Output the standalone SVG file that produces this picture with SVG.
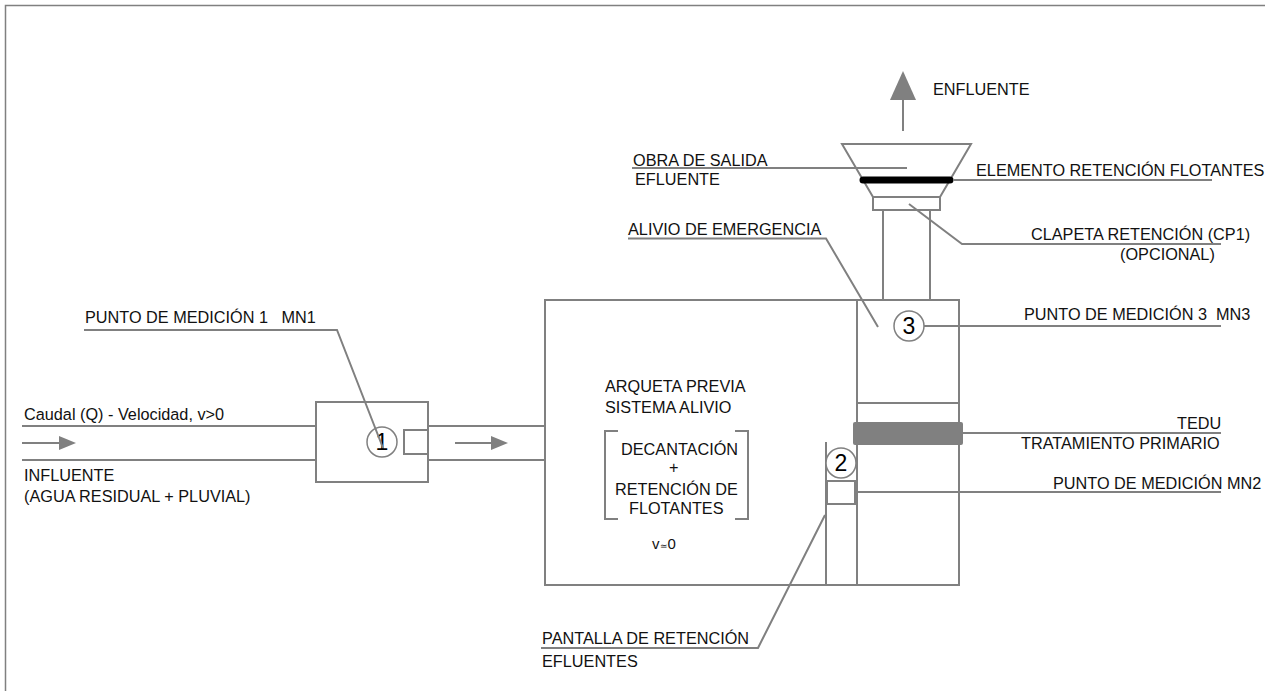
<svg xmlns="http://www.w3.org/2000/svg" width="1265" height="691" viewBox="0 0 1265 691">
<style>
text{font-family:"Liberation Sans",Arial,sans-serif;font-size:16.25px;fill:#111}
.l{fill:none;stroke:#808080;stroke-width:2}
.f{fill:#808080;stroke:none}
.c{fill:#fff;stroke:#808080;stroke-width:1.5}
.n{font-size:23px;fill:#000;text-anchor:middle}
</style>
<rect width="1265" height="691" fill="#fff"/>
<path d="M5.500 691V5.500H1265" fill="none" stroke="#808080" stroke-width="1.500"/>
<g id="influent-box"><rect class="l" x="316" y="402" width="112" height="80"/><rect class="l" x="404" y="430" width="24" height="24"/><circle class="c" cx="382" cy="442" r="15"/><text class="n" x="382" y="450">1</text></g>
<g id="chamber"><rect class="l" x="545" y="300" width="414" height="285"/><path class="l" d="M857 300V585M857 403H959M826 442V585"/></g>
<g id="outlet"><path class="l" d="M883 300V211M930 300V211"/><rect class="l" x="873" y="197" width="67" height="13"/><polygon class="l" points="842,144 971,144 940,197 873,197"/><path d="M863 180H950" stroke="#000" stroke-width="7" stroke-linecap="round"/></g>
<g id="tedu"><rect x="853" y="422" width="110" height="23" rx="2" fill="#808080"/></g>
<g id="mp3"><circle class="c" cx="909" cy="326" r="15"/><text class="n" x="909" y="334">3</text></g>
<g id="mp2"><circle class="c" cx="841" cy="463" r="15"/><text class="n" x="841" y="471">2</text><rect class="l" x="827" y="481" width="28" height="23" style="fill:#fff"/></g>
<g id="brackets"><path class="l" d="M618 431H605V519H618M735 431H748V519H735"/></g>
<g id="connectors">
<path class="l" d="M22 426H316M22 460H316M428 426H545M428 460H545"/>
<path class="l" d="M22 443H62M455 443H494"/>
<polygon class="f" points="59,436 76,443 59,450"/>
<polygon class="f" points="491,436 508,443 491,450"/>
<path class="l" d="M903 131V85"/>
<polygon class="f" points="903,71 916,100 890,100"/>
<path class="l" d="M84 330H337L383 448"/>
<path class="l" d="M632 168H907"/>
<path class="l" d="M953 180H1212"/>
<path class="l" d="M909 204L962 244H1221"/>
<path class="l" d="M628 238.500H826L878 327"/>
<path class="l" d="M924 326H1221"/>
<path class="l" d="M962 433H1221"/>
<path class="l" d="M855 492H1221"/>
<path class="l" d="M825 515L758 648H541"/>
</g>
<g id="labels">
<text x="933" y="95">ENFLUENTE</text>
<text x="633" y="166">OBRA DE SALIDA</text>
<text x="635" y="185">EFLUENTE</text>
<text x="976" y="176">ELEMENTO RETENCIÓN FLOTANTES</text>
<text x="1031" y="240">CLAPETA RETENCIÓN (CP1)</text>
<text x="1120" y="260">(OPCIONAL)</text>
<text x="628" y="235">ALIVIO DE EMERGENCIA</text>
<text x="85" y="323">PUNTO DE MEDICIÓN 1&#160;&#160;&#160;MN1</text>
<text x="1024" y="320">PUNTO DE MEDICIÓN 3&#160;&#160;MN3</text>
<text x="1177" y="429">TEDU</text>
<text x="1021" y="449">TRATAMIENTO PRIMARIO</text>
<text x="1053" y="489">PUNTO DE MEDICIÓN MN2</text>
<text x="24" y="420">Caudal (Q) - Velocidad, v&gt;0</text>
<text x="24" y="481">INFLUENTE</text>
<text x="24" y="502">(AGUA RESIDUAL + PLUVIAL)</text>
<text x="605" y="392">ARQUETA PREVIA</text>
<text x="605" y="413">SISTEMA ALIVIO</text>
<text x="621" y="455">DECANTACIÓN</text>
<text x="669" y="473">+</text>
<text x="615" y="495">RETENCIÓN DE</text>
<text x="629" y="514">FLOTANTES</text>
<text x="652" y="549" style="font-size:15px">v<tspan style="font-size:9px">≃</tspan>0</text>
<text x="542" y="644">PANTALLA DE RETENCIÓN</text>
<text x="542" y="667">EFLUENTES</text>
</g>
</svg>
